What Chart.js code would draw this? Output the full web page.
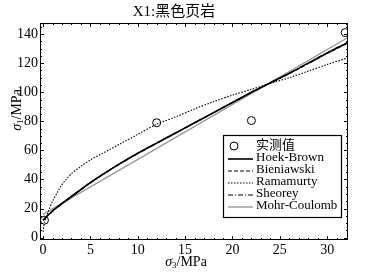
<!DOCTYPE html>
<html>
<head>
<meta charset="utf-8">
<script src="https://cdn.jsdelivr.net/npm/chart.js@4.4.0/dist/chart.umd.min.js"></script>
<style>
  html, body { margin: 0; padding: 0; background: #fff; }
  #wrap { width: 367px; height: 277px; }
</style>
</head>
<body>
<div id="wrap"><canvas id="rockChart" width="367" height="277"></canvas></div>
<script>
// X1 black shale: sigma1 vs sigma3 fitted by several strength criteria
const xTicks = [0, 5, 10, 15, 20, 25, 30];
const yTicks = [0, 20, 40, 60, 80, 100, 120, 140];

// measured points
const measX = [0.15, 12, 22, 31.9];
const measY = [12, 79, 80.5, 141];

// sampled sigma3 values for the fitted curves
const curveX = [0, 0.5, 1, 1.5, 2, 3, 4, 5, 6, 8, 10, 12, 14, 16, 18, 20, 22, 24, 26, 28, 30, 32.3];
const hoekBrown  = [12, 15.3, 18.3, 21, 23.5, 28.3, 33.1, 37.8, 42.2, 50.4, 58, 65, 72, 79, 86, 93, 100, 106.5, 113, 120, 127, 134.5];
const bieniawski = [12.2, 15.5, 18.5, 21.2, 23.7, 28.5, 33.3, 38, 42.3, 50.5, 58.1, 65.1, 72.1, 79, 86, 92.9, 99.8, 106.3, 112.8, 119.7, 126.7, 134.2];
const sheorey    = [11.8, 15.1, 18.1, 20.8, 23.3, 28.1, 32.9, 37.6, 42, 50.2, 57.8, 64.8, 71.8, 78.8, 85.8, 92.8, 99.8, 106.4, 113, 120.1, 127.2, 134.8];
const ramaX = [0, 0.05, 0.2, 0.5, 1, 1.5, 2, 2.5, 3, 4, 5, 6, 7, 8, 10, 12, 14, 16, 18, 20, 22, 24, 26, 28, 30, 32.3];
const ramamurty = [4, 7, 11, 17, 25, 31, 36.5, 40.5, 44, 49, 53.5, 57, 60.5, 64, 71, 78, 83, 88.5, 93.5, 98, 102, 106, 110, 114.5, 119, 124];
const mcX = [0, 32.3];
const mohrCoulomb = [16, 138];

const legendNames = ['实测值', 'Hoek-Brown', 'Bieniawski', 'Ramamurty', 'Sheorey', 'Mohr-Coulomb'];

const serif = '"Liberation Serif", "Times New Roman", "Noto Sans CJK SC", serif';

function pts(xs, ys) {
  return xs.map((x, i) => ({ x: x, y: ys[i] }));
}

function curve(label, xs, ys, color, width, dash) {
  return {
    label: label,
    data: pts(xs, ys),
    showLine: true,
    borderColor: color,
    borderWidth: width,
    borderDash: dash,
    pointRadius: 0,
    tension: 0.3,
    fill: false
  };
}

// frame with inward ticks on all four sides
const frameTicks = {
  id: 'frameTicks',
  afterDraw(chart) {
    const { ctx, chartArea: a, scales: { x, y } } = chart;
    ctx.save();
    ctx.strokeStyle = '#000';
    ctx.lineWidth = 1;
    ctx.strokeRect(Math.round(a.left) + 0.5, Math.round(a.top) + 0.5,
      Math.round(a.right - a.left) - 1, Math.round(a.bottom - a.top) - 1);
    ctx.beginPath();
    for (let v = 0; v <= x.max; v += 1) {
      const px = Math.round(x.getPixelForValue(v)) + 0.5;
      const len = v % 5 === 0 ? 4 : 2;
      ctx.moveTo(px, a.bottom); ctx.lineTo(px, a.bottom - len);
      ctx.moveTo(px, a.top); ctx.lineTo(px, a.top + len);
    }
    for (let v = 0; v <= y.max; v += 5) {
      const py = Math.round(y.getPixelForValue(v)) + 0.5;
      const len = v % 20 === 0 ? 4 : 2;
      ctx.moveTo(a.left, py); ctx.lineTo(a.left + len, py);
      ctx.moveTo(a.right, py); ctx.lineTo(a.right - len, py);
    }
    ctx.stroke();
    ctx.restore();
  }
};

// sigma with subscript, then unit
function drawAxisLabel(ctx, sub, cx, cy, rotate) {
  ctx.save();
  ctx.translate(cx, cy);
  if (rotate) ctx.rotate(-Math.PI / 2);
  ctx.fillStyle = '#000';
  ctx.textBaseline = 'middle';
  const big = 'italic 14px ' + serif;
  const small = '9px ' + serif;
  const rest = '14px ' + serif;
  ctx.font = big; const w1 = ctx.measureText('σ').width;
  ctx.font = small; const w2 = ctx.measureText(sub).width;
  ctx.font = rest; const w3 = ctx.measureText('/MPa').width;
  let x0 = -(w1 + w2 + w3) / 2;
  ctx.font = big; ctx.fillText('σ', x0, 0); x0 += w1;
  ctx.font = small; ctx.fillText(sub, x0, 4); x0 += w2;
  ctx.font = rest; ctx.fillText('/MPa', x0, 0);
  ctx.restore();
}

const axisTitles = {
  id: 'axisTitles',
  afterDraw(chart) {
    const ctx = chart.ctx;
    drawAxisLabel(ctx, '3', 186, 262, false);
    drawAxisLabel(ctx, '1', 17, 110, true);
  }
};

// boxed legend inside the plot, styles read from the datasets
const boxLegend = {
  id: 'boxLegend',
  afterDraw(chart) {
    const ctx = chart.ctx;
    const left = 223, top = 135, right = 341, bottom = 217;
    ctx.save();
    ctx.fillStyle = '#fff';
    ctx.fillRect(left, top, right - left, bottom - top);
    ctx.strokeStyle = '#000';
    ctx.lineWidth = 1.2;
    ctx.strokeRect(left + 0.5, top + 0.5, right - left, bottom - top);
    chart.data.datasets.forEach((ds, i) => {
      const cy = 146 + i * 12;
      if (ds.showLine) {
        ctx.strokeStyle = ds.borderColor;
        ctx.lineWidth = ds.borderWidth;
        ctx.setLineDash(ds.borderDash || []);
        ctx.beginPath();
        ctx.moveTo(228, cy + 1);
        ctx.lineTo(253, cy + 1);
        ctx.stroke();
        ctx.setLineDash([]);
      } else {
        ctx.strokeStyle = '#000';
        ctx.lineWidth = 1;
        ctx.beginPath();
        ctx.arc(234, cy, 4, 0, Math.PI * 2);
        ctx.stroke();
      }
      ctx.fillStyle = '#000';
      ctx.textBaseline = 'middle';
      ctx.font = '13px ' + serif;
      ctx.fillText(ds.label, 256, cy);
    });
    ctx.restore();
  }
};

new Chart(document.getElementById('rockChart').getContext('2d'), {
  type: 'scatter',
  data: {
    datasets: [
      {
        label: legendNames[0],
        data: pts(measX, measY),
        showLine: false,
        pointStyle: 'circle',
        pointRadius: 4,
        pointBorderColor: '#000',
        pointBorderWidth: 1,
        pointBackgroundColor: 'rgba(255,255,255,0)'
      },
      curve(legendNames[1], curveX, hoekBrown, '#000', 1.6, []),
      curve(legendNames[2], curveX, bieniawski, '#000', 1.1, [4, 2]),
      curve(legendNames[3], ramaX, ramamurty, '#000', 1.1, [1.5, 1.5]),
      curve(legendNames[4], curveX, sheorey, '#000', 1.1, [5, 2, 1, 2]),
      curve(legendNames[5], mcX, mohrCoulomb, '#999', 1.4, [])
    ]
  },
  options: {
    responsive: false,
    animation: false,
    layout: { padding: { left: 0, right: 19, top: 0, bottom: 0 } },
    plugins: {
      legend: { display: false },
      tooltip: { enabled: false },
      title: {
        display: true,
        text: 'X1:黑色页岩',
        color: '#000',
        font: { family: serif, size: 15, weight: 'normal' },
        padding: { top: 3, bottom: 2 }
      }
    },
    scales: {
      x: {
        type: 'linear',
        min: -0.32,
        max: 32.2,
        afterBuildTicks: s => { s.ticks = xTicks.map(v => ({ value: v })); },
        afterFit: s => { s.height = 37; },
        grid: { display: false, drawTicks: false },
        border: { display: false },
        ticks: { color: '#000', padding: 2, maxRotation: 0, font: { family: serif, size: 14 } }
      },
      y: {
        type: 'linear',
        min: -1.6,
        max: 147.6,
        afterBuildTicks: s => { s.ticks = yTicks.map(v => ({ value: v })); },
        afterFit: s => { s.width = 40; },
        grid: { display: false, drawTicks: false },
        border: { display: false },
        ticks: { color: '#000', padding: 2, font: { family: serif, size: 14 } }
      }
    }
  },
  plugins: [frameTicks, axisTitles, boxLegend]
});
</script>
</body>
</html>
